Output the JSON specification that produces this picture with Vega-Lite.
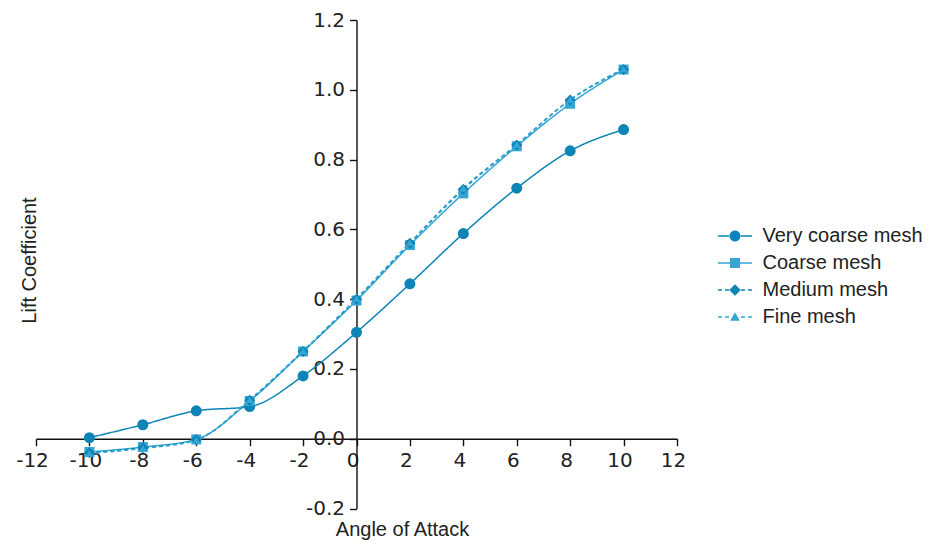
{
  "$schema": "https://vega.github.io/schema/vega-lite/v6.json",
  "width": 641,
  "height": 488.5,
  "autosize": {"type": "none"},
  "padding": {"left": 36, "top": 20, "right": 260, "bottom": 32.5},
  "background": "white",
  "config": {
    "view": {"stroke": null},
    "font": "Liberation Sans",
    "axis": {
      "domainColor": "#111",
      "domainWidth": 1.4,
      "tickColor": "#111",
      "tickWidth": 1.4,
      "tickSize": 7,
      "grid": false,
      "labelFont": "DejaVu Sans",
      "labelFontSize": 20,
      "labelColor": "#222",
      "labelOverlap": false,
      "labelFlush": false,
      "titleFont": "Liberation Sans",
      "titleFontSize": 20,
      "titleFontWeight": "normal",
      "titleColor": "#222"
    }
  },
  "data": {
    "values": [
      {"mesh": "Very coarse mesh", "angle": -10, "cl": 0.003},
      {"mesh": "Very coarse mesh", "angle": -8, "cl": 0.04},
      {"mesh": "Very coarse mesh", "angle": -6, "cl": 0.08},
      {"mesh": "Very coarse mesh", "angle": -4, "cl": 0.092},
      {"mesh": "Very coarse mesh", "angle": -2, "cl": 0.18},
      {"mesh": "Very coarse mesh", "angle": 0, "cl": 0.305},
      {"mesh": "Very coarse mesh", "angle": 2, "cl": 0.444},
      {"mesh": "Very coarse mesh", "angle": 4, "cl": 0.588},
      {"mesh": "Very coarse mesh", "angle": 6, "cl": 0.718},
      {"mesh": "Very coarse mesh", "angle": 8, "cl": 0.825},
      {"mesh": "Very coarse mesh", "angle": 10, "cl": 0.886},
      {"mesh": "Coarse mesh", "angle": -10, "cl": -0.038},
      {"mesh": "Coarse mesh", "angle": -8, "cl": -0.024},
      {"mesh": "Coarse mesh", "angle": -6, "cl": -0.002},
      {"mesh": "Coarse mesh", "angle": -4, "cl": 0.108},
      {"mesh": "Coarse mesh", "angle": -2, "cl": 0.25},
      {"mesh": "Coarse mesh", "angle": 0, "cl": 0.396},
      {"mesh": "Coarse mesh", "angle": 2, "cl": 0.555},
      {"mesh": "Coarse mesh", "angle": 4, "cl": 0.703},
      {"mesh": "Coarse mesh", "angle": 6, "cl": 0.838},
      {"mesh": "Coarse mesh", "angle": 8, "cl": 0.96},
      {"mesh": "Coarse mesh", "angle": 10, "cl": 1.058},
      {"mesh": "Medium mesh", "angle": -10, "cl": -0.04},
      {"mesh": "Medium mesh", "angle": -8, "cl": -0.026},
      {"mesh": "Medium mesh", "angle": -6, "cl": -0.003},
      {"mesh": "Medium mesh", "angle": -4, "cl": 0.11},
      {"mesh": "Medium mesh", "angle": -2, "cl": 0.25},
      {"mesh": "Medium mesh", "angle": 0, "cl": 0.4},
      {"mesh": "Medium mesh", "angle": 2, "cl": 0.56},
      {"mesh": "Medium mesh", "angle": 4, "cl": 0.715},
      {"mesh": "Medium mesh", "angle": 6, "cl": 0.842},
      {"mesh": "Medium mesh", "angle": 8, "cl": 0.971},
      {"mesh": "Medium mesh", "angle": 10, "cl": 1.058},
      {"mesh": "Fine mesh", "angle": -10, "cl": -0.042},
      {"mesh": "Fine mesh", "angle": -8, "cl": -0.028},
      {"mesh": "Fine mesh", "angle": -6, "cl": -0.004},
      {"mesh": "Fine mesh", "angle": -4, "cl": 0.112},
      {"mesh": "Fine mesh", "angle": -2, "cl": 0.252},
      {"mesh": "Fine mesh", "angle": 0, "cl": 0.402},
      {"mesh": "Fine mesh", "angle": 2, "cl": 0.562},
      {"mesh": "Fine mesh", "angle": 4, "cl": 0.718},
      {"mesh": "Fine mesh", "angle": 6, "cl": 0.843},
      {"mesh": "Fine mesh", "angle": 8, "cl": 0.972},
      {"mesh": "Fine mesh", "angle": 10, "cl": 1.06}
    ]
  },
  "encoding": {
    "x": {
      "field": "angle",
      "type": "quantitative",
      "scale": {"domain": [-12, 12], "nice": false, "zero": false},
      "axis": {
        "title": "Angle of Attack",
        "values": [-12, -10, -8, -6, -4, -2, 0, 2, 4, 6, 8, 10, 12],
        "format": "d",
        "labelExpr": "replace(datum.label, '\u2212', '-')",
        "offset": -69.8,
        "labelPadding": 5,
        "labelOffset": -4,
        "titleX": 366,
        "titleY": 96.5,
        "titleAlign": "center",
        "titleBaseline": "alphabetic"
      }
    },
    "y": {
      "field": "cl",
      "type": "quantitative",
      "scale": {"domain": [-0.2, 1.2], "nice": false, "zero": false},
      "axis": {
        "title": "Lift Coefficient",
        "values": [-0.2, 0, 0.2, 0.4, 0.6, 0.8, 1.0, 1.2],
        "format": ".1f",
        "labelExpr": "replace(datum.label, '\u2212', '-')",
        "offset": -320.5,
        "labelPadding": 5,
        "titleX": -321.5,
        "titleY": 240,
        "titleAngle": 270,
        "titleAlign": "center",
        "titleBaseline": "alphabetic"
      }
    }
  },
  "layer": [
    {
      "mark": {"type": "line", "interpolate": "monotone", "strokeWidth": 1.5},
      "encoding": {
        "color": {
          "field": "mesh",
          "type": "nominal",
          "scale": {
            "domain": ["Very coarse mesh", "Coarse mesh", "Medium mesh", "Fine mesh"],
            "range": ["#0c84b6", "#35a6d4", "#0c84b6", "#35a6d4"]
          },
          "legend": {
            "title": null,
            "orient": "none",
            "legendX": 689,
            "legendY": 206,
            "padding": 0,
            "symbolSize": 100,
            "symbolStrokeWidth": 0,
            "symbolType": {"expr": "datum.value === 'Very coarse mesh' ? 'M-3.4,-0.15L-1,-0.15L-1,0.15L-3.4,0.15ZM1,-0.15L3.4,-0.15L3.4,0.15L1,0.15ZM-1.1,0A1.1,1.1 0 1,0 1.1,0A1.1,1.1 0 1,0 -1.1,0Z' : datum.value === 'Coarse mesh' ? 'M-3.4,-0.15L-1,-0.15L-1,0.15L-3.4,0.15ZM1,-0.15L3.4,-0.15L3.4,0.15L1,0.15ZM-1,-1L1,-1L1,1L-1,1Z' : datum.value === 'Medium mesh' ? 'M-3.4,-0.15L-2.6,-0.15L-2.6,0.15L-3.4,0.15ZM-2,-0.15L-1.2,-0.15L-1.2,0.15L-2,0.15ZM1.2,-0.15L2,-0.15L2,0.15L1.2,0.15ZM2.6,-0.15L3.4,-0.15L3.4,0.15L2.6,0.15ZM0,-1.15L1.15,0L0,1.15L-1.15,0Z' : 'M-3.4,-0.15L-2.6,-0.15L-2.6,0.15L-3.4,0.15ZM-2,-0.15L-1.2,-0.15L-1.2,0.15L-2,0.15ZM1.2,-0.15L2,-0.15L2,0.15L1.2,0.15ZM2.6,-0.15L3.4,-0.15L3.4,0.15L2.6,0.15ZM0,-0.95L0.95,0.75L-0.95,0.75Z'"},
            "symbolFillColor": {"expr": "datum.value === 'Very coarse mesh' || datum.value === 'Medium mesh' ? '#0c84b6' : '#35a6d4'"},
            "symbolOpacity": 1,
            "labelFont": "Liberation Sans",
            "labelFontSize": 20,
            "labelColor": "#222",
            "labelLimit": 300,
            "labelOffset": 17.5,
            "rowPadding": 7
          }
        },
        "strokeDash": {
          "field": "mesh",
          "type": "nominal",
          "scale": {
            "domain": ["Very coarse mesh", "Coarse mesh", "Medium mesh", "Fine mesh"],
            "range": [[1, 0], [1, 0], [4, 3], [4, 3]]
          },
          "legend": null
        }
      }
    },
    {
      "transform": [{"filter": "datum.mesh === 'Very coarse mesh'"}],
      "mark": {"type": "point", "shape": "circle", "size": 121, "filled": true, "opacity": 1, "color": "#0c84b6"}
    },
    {
      "transform": [{"filter": "datum.mesh === 'Coarse mesh'"}],
      "mark": {"type": "point", "shape": "square", "size": 100, "filled": true, "opacity": 1, "color": "#35a6d4"}
    },
    {
      "transform": [{"filter": "datum.mesh === 'Medium mesh'"}],
      "mark": {"type": "point", "shape": "diamond", "size": 121, "filled": true, "opacity": 1, "color": "#0c84b6"}
    },
    {
      "transform": [{"filter": "datum.mesh === 'Fine mesh'"}],
      "mark": {"type": "point", "shape": "triangle-up", "size": 64, "filled": true, "opacity": 1, "color": "#35a6d4"}
    }
  ]
}
